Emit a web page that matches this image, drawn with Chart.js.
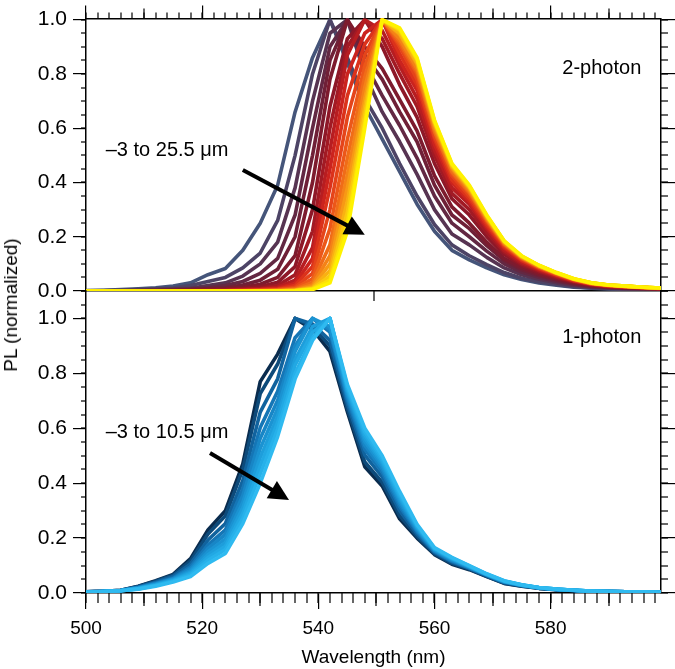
<!DOCTYPE html>
<html>
<head>
<meta charset="utf-8">
<script src="https://cdn.jsdelivr.net/npm/chart.js@4.4.1/dist/chart.umd.min.js"></script>
<style>
  body { margin: 0; background: #fff; }
  #wrap { position: relative; width: 675px; height: 669px; }
  #wrap canvas { position: absolute; left: 0; top: 0; }
  #ylabel {
    position: absolute; left: 11px; top: 305px;
    transform: translate(-50%, -50%) rotate(-90deg);
    font: 19px "Liberation Sans", Arial, sans-serif; white-space: nowrap; color: #000;
  }
</style>
</head>
<body>
<div id="wrap">
  <canvas id="twoPhoton" width="675" height="669"></canvas>
  <canvas id="onePhoton" width="675" height="669"></canvas>
  <div id="ylabel">PL (normalized)</div>
</div>
<script>
// wavelength grid of the spectrometer (nm)
const wavelength = [500, 503, 506, 509, 512, 515, 518, 521, 524, 527, 530, 533, 536, 539, 542, 545, 548,
    551, 554, 557, 560, 563, 566, 569, 572, 575, 578, 581, 584, 587, 590, 593, 596, 599];

// 2-photon spectra, one per depth (-3 to 25.5 um)
const depths2p = ["-3", "-1.5", "0", "1.5", "3", "4.5", "6", "7.5", "9", "10.5", "12", "13.5", "15", "16.5", "18", "19.5", "21", "22.5", "24", "25.5"];
const pl2p_n3_0 = [0.002,0.003,0.005,0.008,0.012,0.018,0.03,0.06,0.083,0.15,0.25,0.39,0.66,0.86,1.0,0.84,0.68,0.56,0.44,0.32,0.22,0.15,0.115,0.085,0.06,0.042,0.03,0.021,0.014,0.01,0.008,0.006,0.005,0.004];
const pl2p_n1_5 = [0.001,0.002,0.003,0.005,0.008,0.011,0.02,0.035,0.05,0.085,0.14,0.26,0.5,0.8,1.0,0.86,0.71,0.6,0.47,0.35,0.245,0.17,0.13,0.097,0.068,0.047,0.034,0.024,0.016,0.011,0.009,0.007,0.006,0.005];
const pl2p_0_0 = [0.001,0.001,0.002,0.003,0.005,0.007,0.01,0.02,0.03,0.055,0.1,0.18,0.38,0.7,0.95,1.0,0.8,0.66,0.55,0.43,0.3,0.21,0.17,0.124,0.085,0.06,0.043,0.03,0.02,0.014,0.011,0.008,0.007,0.005];
const pl2p_1_5 = [0,0.001,0.001,0.002,0.003,0.004,0.006,0.012,0.02,0.035,0.065,0.12,0.28,0.6,0.9,1.0,0.84,0.72,0.61,0.49,0.35,0.25,0.2,0.147,0.1,0.07,0.051,0.036,0.024,0.016,0.012,0.01,0.008,0.006];
const pl2p_3_0 = [0,0,0.001,0.001,0.002,0.003,0.005,0.008,0.012,0.022,0.04,0.08,0.2,0.5,0.85,1.0,0.87,0.78,0.66,0.55,0.39,0.28,0.23,0.167,0.113,0.079,0.057,0.041,0.027,0.018,0.014,0.011,0.009,0.007];
const pl2p_4_5 = [0,0,0,0.001,0.001,0.002,0.003,0.005,0.008,0.014,0.025,0.05,0.13,0.4,0.78,1.0,0.9,0.82,0.705,0.59,0.425,0.31,0.25,0.18,0.12,0.086,0.062,0.045,0.03,0.02,0.015,0.012,0.01,0.008];
const pl2p_6_0 = [0,0,0,0,0.001,0.001,0.002,0.003,0.005,0.009,0.016,0.032,0.09,0.3,0.68,0.93,1.0,0.9,0.76,0.64,0.47,0.34,0.28,0.2,0.135,0.095,0.069,0.049,0.033,0.022,0.016,0.013,0.01,0.008];
const pl2p_7_5 = [0,0,0,0,0,0.001,0.001,0.002,0.003,0.006,0.01,0.02,0.06,0.22,0.6,0.9,1.0,0.93,0.8,0.68,0.5,0.36,0.3,0.216,0.144,0.1,0.074,0.052,0.035,0.023,0.017,0.014,0.011,0.009];
const pl2p_9_0 = [0,0,0,0,0,0,0.001,0.001,0.002,0.004,0.007,0.014,0.04,0.16,0.52,0.87,1.0,0.96,0.83,0.71,0.52,0.38,0.32,0.23,0.15,0.106,0.077,0.055,0.037,0.025,0.018,0.015,0.012,0.009];
const pl2p_10_5 = [0,0,0,0,0,0,0,0.001,0.001,0.003,0.005,0.01,0.028,0.12,0.45,0.8,0.95,1.0,0.85,0.74,0.54,0.4,0.33,0.237,0.158,0.111,0.081,0.058,0.038,0.026,0.019,0.015,0.012,0.009];
const pl2p_12_0 = [0,0,0,0,0,0,0,0,0.001,0.002,0.004,0.007,0.02,0.09,0.38,0.72,0.91,1.0,0.875,0.76,0.56,0.41,0.34,0.245,0.163,0.114,0.083,0.06,0.039,0.026,0.019,0.016,0.012,0.01];
const pl2p_13_5 = [0,0,0,0,0,0,0,0,0,0.001,0.003,0.005,0.014,0.065,0.3,0.64,0.87,1.0,0.9,0.78,0.57,0.425,0.35,0.253,0.168,0.118,0.086,0.061,0.041,0.027,0.02,0.016,0.013,0.01];
const pl2p_15_0 = [0,0,0,0,0,0,0,0,0,0,0.002,0.004,0.01,0.045,0.23,0.56,0.83,1.0,0.91,0.8,0.585,0.435,0.36,0.259,0.171,0.12,0.088,0.063,0.042,0.028,0.02,0.017,0.013,0.01];
const pl2p_16_5 = [0,0,0,0,0,0,0,0,0,0,0,0.003,0.007,0.032,0.17,0.49,0.79,1.0,0.92,0.81,0.59,0.44,0.365,0.262,0.174,0.122,0.089,0.064,0.042,0.028,0.021,0.017,0.013,0.01];
const pl2p_18_0 = [0,0,0,0,0,0,0,0,0,0,0,0.002,0.005,0.022,0.13,0.43,0.75,1.0,0.93,0.82,0.6,0.45,0.37,0.266,0.176,0.124,0.09,0.065,0.043,0.029,0.021,0.017,0.013,0.01];
const pl2p_19_5 = [0,0,0,0,0,0,0,0,0,0,0,0,0.004,0.016,0.1,0.38,0.71,1.0,0.945,0.835,0.61,0.455,0.376,0.27,0.179,0.126,0.092,0.066,0.043,0.029,0.021,0.017,0.014,0.011];
const pl2p_21_0 = [0,0,0,0,0,0,0,0,0,0,0,0,0.003,0.012,0.075,0.33,0.68,1.0,0.95,0.84,0.616,0.459,0.38,0.273,0.181,0.127,0.093,0.066,0.044,0.029,0.022,0.018,0.014,0.011];
const pl2p_22_5 = [0,0,0,0,0,0,0,0,0,0,0,0,0.002,0.009,0.055,0.29,0.65,1.0,0.96,0.85,0.622,0.464,0.384,0.276,0.183,0.128,0.094,0.067,0.044,0.03,0.022,0.018,0.014,0.011];
const pl2p_24_0 = [0,0,0,0,0,0,0,0,0,0,0,0,0.001,0.007,0.04,0.25,0.62,1.0,0.965,0.855,0.626,0.467,0.387,0.278,0.184,0.129,0.094,0.068,0.045,0.03,0.022,0.018,0.014,0.011];
const pl2p_25_5 = [0,0,0,0,0,0,0,0,0,0,0,0,0.001,0.005,0.03,0.22,0.6,1.0,0.97,0.86,0.63,0.47,0.39,0.28,0.185,0.13,0.095,0.068,0.045,0.03,0.022,0.018,0.014,0.011];
const colors2p = ["#45557a", "#4d4466", "#573452", "#632843", "#6f2037", "#7d1b2e", "#8e1828", "#a21a24", "#b71d21", "#cb231e",
    "#db321b", "#e5441a", "#ec5719", "#f06c18", "#f48217", "#f79915", "#f9b112", "#fbc90e", "#fde108", "#fff200"];

// 1-photon spectra, one per depth (-3 to 10.5 um)
const depths1p = ["-3", "-1.5", "0", "1.5", "3", "4.5", "6", "7.5", "9", "10.5"];
const pl1p_n3_0 = [0.004,0.006,0.01,0.025,0.045,0.068,0.125,0.23,0.3,0.47,0.77,0.87,1.0,0.96,0.88,0.66,0.46,0.39,0.27,0.2,0.14,0.105,0.085,0.06,0.035,0.025,0.017,0.012,0.009,0.006,0.005,0.004,0.003,0.003];
const pl1p_n1_5 = [0.004,0.006,0.01,0.024,0.043,0.065,0.117,0.215,0.281,0.45,0.726,0.834,1.0,0.97,0.9,0.672,0.477,0.403,0.282,0.206,0.143,0.108,0.087,0.061,0.036,0.026,0.017,0.012,0.009,0.006,0.005,0.004,0.003,0.003];
const pl1p_0_0 = [0.004,0.006,0.009,0.022,0.039,0.06,0.106,0.193,0.253,0.41,0.659,0.78,1.0,0.98,0.92,0.69,0.502,0.423,0.3,0.215,0.148,0.113,0.09,0.063,0.038,0.027,0.018,0.013,0.009,0.006,0.005,0.004,0.003,0.003];
const pl1p_1_5 = [0.004,0.006,0.009,0.02,0.036,0.055,0.096,0.175,0.23,0.38,0.603,0.735,0.93,1.0,0.95,0.705,0.523,0.44,0.315,0.223,0.151,0.116,0.092,0.065,0.04,0.027,0.018,0.013,0.009,0.006,0.005,0.004,0.003,0.003];
const pl1p_3_0 = [0.003,0.005,0.009,0.019,0.034,0.052,0.089,0.162,0.213,0.355,0.563,0.702,0.9,1.0,0.96,0.716,0.538,0.452,0.326,0.228,0.154,0.119,0.093,0.066,0.041,0.028,0.019,0.013,0.01,0.006,0.005,0.004,0.003,0.003];
const pl1p_4_5 = [0.003,0.005,0.009,0.018,0.032,0.05,0.082,0.15,0.197,0.33,0.526,0.672,0.88,1.0,0.97,0.726,0.552,0.463,0.336,0.233,0.157,0.122,0.095,0.067,0.042,0.028,0.019,0.013,0.01,0.007,0.005,0.004,0.004,0.003];
const pl1p_6_0 = [0.003,0.005,0.009,0.017,0.03,0.047,0.076,0.139,0.183,0.31,0.493,0.645,0.85,0.97,1.0,0.735,0.565,0.473,0.345,0.238,0.159,0.124,0.096,0.068,0.043,0.029,0.019,0.014,0.01,0.007,0.005,0.004,0.004,0.003];
const pl1p_7_5 = [0.003,0.005,0.008,0.016,0.028,0.045,0.071,0.129,0.17,0.29,0.463,0.621,0.83,0.95,1.0,0.743,0.576,0.481,0.353,0.242,0.161,0.126,0.097,0.068,0.043,0.029,0.019,0.014,0.01,0.007,0.005,0.004,0.004,0.003];
const pl1p_9_0 = [0.003,0.005,0.008,0.015,0.027,0.043,0.066,0.119,0.158,0.272,0.433,0.597,0.8,0.93,1.0,0.751,0.587,0.49,0.361,0.246,0.163,0.128,0.099,0.069,0.044,0.03,0.02,0.014,0.01,0.007,0.005,0.004,0.004,0.003];
const pl1p_10_5 = [0.003,0.005,0.008,0.014,0.025,0.04,0.06,0.108,0.144,0.253,0.4,0.57,0.78,0.92,1.0,0.76,0.6,0.5,0.37,0.25,0.165,0.13,0.1,0.07,0.045,0.03,0.02,0.014,0.01,0.007,0.005,0.004,0.004,0.003];
const colors1p = ["#0a2c4e", "#0d4a7a", "#11639e", "#1576b6", "#1886c6", "#1b93d2", "#1e9edb", "#22a8e3", "#27b1ea", "#2fbaf0"];

const series2p = [pl2p_n3_0, pl2p_n1_5, pl2p_0_0, pl2p_1_5, pl2p_3_0, pl2p_4_5, pl2p_6_0, pl2p_7_5, pl2p_9_0, pl2p_10_5,
    pl2p_12_0, pl2p_13_5, pl2p_15_0, pl2p_16_5, pl2p_18_0, pl2p_19_5, pl2p_21_0, pl2p_22_5, pl2p_24_0, pl2p_25_5];
const series1p = [pl1p_n3_0, pl1p_n1_5, pl1p_0_0, pl1p_1_5, pl1p_3_0, pl1p_4_5, pl1p_6_0, pl1p_7_5, pl1p_9_0, pl1p_10_5];

Chart.defaults.font.family = '"Liberation Sans", Arial, Helvetica, sans-serif';
Chart.defaults.font.size = 19;
Chart.defaults.color = "#000";

function makeDatasets(series, colors, depths) {
    // deepest spectrum last in drawing -> on top
    return series.map((values, k) => ({
        label: depths[k] + " \u00b5m",
        data: values.map((v, i) => ({ x: wavelength[i], y: v })),
        borderColor: colors[k],
        borderWidth: 3.6,
        borderJoinStyle: "round",
        borderCapStyle: "round",
        pointRadius: 0,
        tension: 0,
        fill: false,
        order: series.length - k
    }));
}

function fixedSize(prop, size) {
    return scale => { scale[prop] = size; };
}

function range(from, to, step) {
    let out = [];
    for (let v = from; v <= to + 1e-9; v += step) {
        out.push(Math.round(v * 1000) / 1000);
    }
    return out;
}

function yAxis(max, side) {
    let left = side == "left";
    return {
        type: "linear", position: side, min: 0, max: max,
        grid: { drawOnChartArea: false, tickLength: left ? 13 : 14, lineWidth: 1.2, color: "#000" },
        border: { display: true, color: "#000", width: 1.5 },
        ticks: { display: left, stepSize: 0.2, includeBounds: false, padding: 6, font: { size: 21 }, callback: v => v.toFixed(1) },
        afterFit: fixedSize("width", left ? 86 : 14)
    };
}

// minor / medium tick marks that Chart.js does not draw by itself
const tickMarks = {
    id: "tickMarks",
    afterDraw(chart, args, opts) {
        const ctx = chart.ctx;
        ctx.save();
        ctx.strokeStyle = "#000";
        ctx.lineWidth = 1.2;
        opts.marks.forEach(m => {
            const scale = chart.scales[m.axis];
            m.values.forEach(v => {
                const p = Math.round(scale.getPixelForValue(v));
                ctx.beginPath();
                if (m.side == "left") {
                    ctx.moveTo(scale.right, p); ctx.lineTo(scale.right - m.len, p);
                } else if (m.side == "right") {
                    ctx.moveTo(scale.left, p); ctx.lineTo(scale.left + m.len, p);
                } else if (m.side == "top") {
                    ctx.moveTo(p, scale.bottom); ctx.lineTo(p, scale.bottom - m.len);
                } else {
                    ctx.moveTo(p, scale.top); ctx.lineTo(p, scale.top + m.len);
                }
                ctx.stroke();
            });
        });
        ctx.restore();
    }
};

// panel label, depth range text and arrow
const notes = {
    id: "notes",
    afterDatasetsDraw(chart, args, opts) {
        const { ctx, scales: { x, y } } = chart;
        ctx.save();
        ctx.fillStyle = "#000";
        ctx.strokeStyle = "#000";
        ctx.font = '20px "Liberation Sans", Arial, sans-serif';
        ctx.textBaseline = "middle";
        ctx.textAlign = "right";
        ctx.fillText(opts.label, x.getPixelForValue(opts.labelAt[0]), y.getPixelForValue(opts.labelAt[1]));
        ctx.textAlign = "left";
        ctx.fillText(opts.range, x.getPixelForValue(opts.rangeAt[0]), y.getPixelForValue(opts.rangeAt[1]));

        let x1 = x.getPixelForValue(opts.arrow[0]), y1 = y.getPixelForValue(opts.arrow[1]);
        let x2 = x.getPixelForValue(opts.arrow[2]), y2 = y.getPixelForValue(opts.arrow[3]);
        let ang = Math.atan2(y2 - y1, x2 - x1);
        let head = 20, half = 10;
        let bx = x2 - head * Math.cos(ang), by = y2 - head * Math.sin(ang);
        ctx.lineWidth = 4;
        ctx.beginPath();
        ctx.moveTo(x1, y1);
        ctx.lineTo(bx + 2 * Math.cos(ang), by + 2 * Math.sin(ang));
        ctx.stroke();
        ctx.beginPath();
        ctx.moveTo(x2, y2);
        ctx.lineTo(bx - half * Math.sin(ang), by + half * Math.cos(ang));
        ctx.lineTo(bx + half * Math.sin(ang), by - half * Math.cos(ang));
        ctx.closePath();
        ctx.fill();
        ctx.restore();
    }
};

const commonOptions = {
    responsive: false,
    animation: false,
    events: [],
    devicePixelRatio: 1
};

new Chart(document.getElementById("twoPhoton"), {
    type: "line",
    data: { datasets: makeDatasets(series2p, colors2p, depths2p) },
    options: {
        ...commonOptions,
        layout: { padding: 0 },
        scales: {
            x: {
                type: "linear", position: "bottom", min: 500, max: 599,
                grid: { display: false },
                border: { display: true, color: "#000", width: 1.5 },
                ticks: { display: false },
                afterFit: fixedSize("height", 669 - 291)
            },
            xTop: {
                type: "linear", position: "top", min: 500, max: 599,
                grid: { drawOnChartArea: false, tickLength: 13, lineWidth: 1.2, color: "#000" },
                border: { display: true, color: "#000", width: 1.5 },
                ticks: { display: false, stepSize: 20, includeBounds: false },
                afterFit: fixedSize("height", 14)
            },
            y: yAxis(1.004, "left"),
            yR: yAxis(1.004, "right")
        },
        plugins: {
            legend: { display: false },
            tooltip: { enabled: false },
            tickMarks: {
                marks: [
                    { axis: "xTop", side: "top", len: 6, values: range(500, 599, 2) },
                    { axis: "xTop", side: "top", len: 10, values: [510, 530, 550, 570, 590] },
                    { axis: "y", side: "left", len: 5, values: range(0, 1, 0.05) },
                    { axis: "yR", side: "right", len: 7, values: range(0, 1, 0.05) },
                    { axis: "x", side: "bottom", len: 10, values: [549.5] }
                ]
            },
            notes: {
                label: "2-photon", labelAt: [595.6, 0.819],
                range: "\u20133 to 25.5 \u03bcm", rangeAt: [503.4, 0.518],
                arrow: [527.0, 0.446, 548.0, 0.207]
            }
        }
    },
    plugins: [tickMarks, notes]
});

new Chart(document.getElementById("onePhoton"), {
    type: "line",
    data: { datasets: makeDatasets(series1p, colors1p, depths1p) },
    options: {
        ...commonOptions,
        layout: { padding: { top: 291 } },
        scales: {
            x: {
                type: "linear", position: "bottom", min: 500, max: 599,
                grid: { drawOnChartArea: false, tickLength: 16, lineWidth: 1.2, color: "#000" },
                border: { display: true, color: "#000", width: 1.5 },
                ticks: { stepSize: 20, includeBounds: false, padding: 8, maxRotation: 0, autoSkip: false },
                title: { display: true, text: "Wavelength (nm)", font: { size: 19 }, padding: { top: 0, bottom: 0 } },
                afterFit: fixedSize("height", 669 - 593)
            },
            y: yAxis(1.1, "left"),
            yR: yAxis(1.1, "right")
        },
        plugins: {
            legend: { display: false },
            tooltip: { enabled: false },
            tickMarks: {
                marks: [
                    { axis: "x", side: "bottom", len: 10, values: range(500, 599, 2) },
                    { axis: "x", side: "bottom", len: 13, values: [510, 530, 550, 570, 590] },
                    { axis: "y", side: "left", len: 5, values: range(0, 1.1, 0.05) },
                    { axis: "yR", side: "right", len: 7, values: range(0, 1.1, 0.05) }
                ]
            },
            notes: {
                label: "1-photon", labelAt: [595.6, 0.929],
                range: "\u20133 to 10.5 \u03bcm", rangeAt: [503.4, 0.583],
                arrow: [521.35, 0.51, 534.95, 0.339]
            }
        }
    },
    plugins: [tickMarks, notes]
});
</script>
</body>
</html>
